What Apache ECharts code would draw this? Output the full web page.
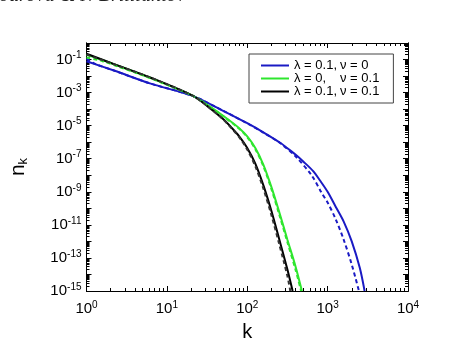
<!DOCTYPE html>
<html>
<head>
<meta charset="utf-8">
<script src="https://cdn.jsdelivr.net/npm/echarts@6/dist/echarts.min.js"></script>
<style>
  html, body { margin: 0; padding: 0; background: #fff; }
  #chart { width: 474px; height: 347px; }
</style>
</head>
<body>
<div id="chart"></div>
<script>
// series values (k, n_k)
const kBlue = [1, 2.24, 6.31, 20.9, 50.1, 100, 158.5, 260, 316, 398, 501, 661, 813, 1000, 1259, 1585, 1995, 2512, 2884];
const nBlue = [7.94e-2, 2.09e-2, 3.47e-3, 6.31e-4, 7.94e-5, 1.41e-5, 3.98e-6, 8.91e-7, 4.27e-7, 1.78e-7, 6.6e-8, 1.78e-8, 4.47e-9, 1e-9, 1.26e-10, 1.58e-11, 1e-12, 2.51e-14, 1e-15];
const kBlueDash = [1, 1.26, 2.24, 6.31, 20.9, 50.1, 100, 158.5, 251, 398, 631, 851, 1000, 1259, 1585, 1995, 2455];
const nBlueDash = [1.12e-1, 5.62e-2, 2.09e-2, 3.47e-3, 6.31e-4, 7.94e-5, 1.38e-5, 3.8e-6, 9.55e-7, 1.41e-7, 1e-8, 7.94e-10, 2.24e-10, 2.24e-11, 1.26e-12, 3.98e-14, 1e-15];

const kGreen = [1, 2.24, 6.31, 20.9, 31.6, 50.1, 79.4, 100, 126, 158.5, 199.5, 251, 316, 398, 479];
const nGreen = [0.2, 5.01e-2, 7.59e-3, 6.61e-4, 1.91e-4, 3.98e-5, 7.08e-6, 2.24e-6, 4.47e-7, 4.47e-8, 2.0e-9, 5.62e-11, 1.26e-12, 3.16e-14, 1e-15];
const kGreenDash = [1, 1.585, 2.24, 6.31, 20.9, 31.6, 50.1, 79.4, 100, 126, 158.5, 199.5, 251, 316, 398, 468];
const nGreenDash = [1.32e-1, 7.94e-2, 4.47e-2, 7.24e-3, 6.46e-4, 1.82e-4, 3.72e-5, 6.46e-6, 2.0e-6, 3.8e-7, 3.55e-8, 1.51e-9, 3.98e-11, 8.91e-13, 2.0e-14, 1e-15];

const kBlack = [1, 2.24, 6.31, 20.9, 31.6, 50.1, 63.1, 79.4, 100, 126, 158.5, 199.5, 251, 316, 367];
const nBlack = [0.224, 5.13e-2, 7.94e-3, 6.61e-4, 1.58e-4, 2.51e-5, 7.94e-6, 2.24e-6, 4.47e-7, 5.01e-8, 2.51e-9, 7.08e-11, 1.26e-12, 2.0e-14, 1e-15];
const kBlackDash = [1, 2.24, 6.31, 20.9, 31.6, 50.1, 63.1, 79.4, 100, 126, 158.5, 199.5, 251, 316, 343];
const nBlackDash = [0.2, 5.01e-2, 7.94e-3, 6.61e-4, 1.58e-4, 2.4e-5, 7.41e-6, 2.0e-6, 3.55e-7, 3.55e-8, 1.58e-9, 3.98e-11, 6.31e-13, 7.94e-15, 1e-15];

const legendNames = ["λ = 0.1,  ν = 0", "λ = 0,     ν = 0.1", "λ = 0.1,  ν = 0.1"];
const legendLeft = ["λ = 0.1,", "λ = 0,", "λ = 0.1,"];
const legendRight = ["ν = 0", "ν = 0.1", "ν = 0.1"];

// axis ticks / labels
const xMajor = [1, 10, 100, 1000, 10000];
const xMinor = [2, 3, 4, 5, 6, 7, 8, 9, 20, 30, 40, 50, 60, 70, 80, 90,
  200, 300, 400, 500, 600, 700, 800, 900, 2000, 3000, 4000, 5000, 6000, 7000, 8000, 9000];
const yMajor = [1e-15, 1e-14, 1e-13, 1e-12, 1e-11, 1e-10, 1e-9, 1e-8, 1e-7, 1e-6, 1e-5, 1e-4, 1e-3, 1e-2, 1e-1, 1];
const yLabels = [1e-15, 1e-13, 1e-11, 1e-9, 1e-7, 1e-5, 1e-3, 1e-1];
const yMinor = [];
yMajor.slice(0, -1).forEach((d) => {
  [2, 3, 4, 5, 6, 7, 8, 9].forEach((m) => yMinor.push(m * d));
});

const BLUE = "#1a1ac4";
const GREEN = "#2ee62e";
const BLACK = "#000000";
const FONT = "Liberation Sans";

const chart = echarts.init(document.getElementById("chart"));

function pairs(ks, ns) {
  return ks.map((k, i) => [k, ns[i]]);
}

function powLabel(v) {
  const e = Math.round(Math.log10(v));
  return "{b|10}{e|" + e + "}";
}

const richPow = {
  b: { fontSize: 15, fontFamily: FONT, color: "#000" },
  e: { fontSize: 10, fontFamily: FONT, color: "#000", padding: [0, 0, 8, 0] },
};

function xAxisDef(pos, ticks, len, withLabel) {
  return {
    type: "log",
    logBase: 10,
    min: 1,
    max: 10000,
    position: pos,
    gridIndex: 0,
    axisLine: { show: true, onZero: false, lineStyle: { color: "#000", width: 1 } },
    axisTick: { show: true, inside: true, length: len, customValues: ticks, lineStyle: { color: "#000" } },
    axisLabel: withLabel
      ? { show: true, customValues: xMajor, formatter: powLabel, rich: richPow, margin: 9 }
      : { show: false },
    splitLine: { show: false },
    minorTick: { show: false },
    name: withLabel ? "k" : "",
    nameLocation: "middle",
    nameGap: 31,
    nameTextStyle: { fontSize: 20, fontFamily: FONT, color: "#000" },
  };
}

function yAxisDef(pos, ticks, len, withLabel) {
  return {
    type: "log",
    logBase: 10,
    min: 1e-15,
    max: 1,
    position: pos,
    gridIndex: 0,
    axisLine: { show: true, onZero: false, lineStyle: { color: "#000", width: 1 } },
    axisTick: { show: true, inside: true, length: len, customValues: ticks, lineStyle: { color: "#000" } },
    axisLabel: withLabel
      ? { show: true, customValues: yLabels, formatter: powLabel, rich: richPow, margin: 5 }
      : { show: false },
    splitLine: { show: false },
    minorTick: { show: false },
    name: withLabel ? "{n|n}{s|k}" : "",
    nameLocation: "middle",
    nameRotate: 90,
    nameGap: 57,
    nameTextStyle: {
      rich: {
        n: { fontSize: 21, fontFamily: FONT, color: "#000" },
        s: { fontSize: 13, fontFamily: FONT, color: "#000", padding: [9, 0, 0, 0] },
      },
    },
  };
}

function lineSeries(name, ks, ns, color, dashed) {
  return {
    name: name,
    type: "line",
    xAxisIndex: 0,
    yAxisIndex: 0,
    data: pairs(ks, ns),
    symbol: "none",
    smooth: 0.3,
    clip: true,
    z: dashed ? 3 : 2,
    lineStyle: { color: color, width: 2, type: dashed ? [4, 3] : "solid" },
    itemStyle: { color: color },
    emphasis: { disabled: true },
    silent: true,
  };
}

chart.setOption({
  animation: false,
  backgroundColor: "#fff",
  grid: { left: 85, right: 66, top: 43, bottom: 48, containLabel: false },
  xAxis: [
    xAxisDef("bottom", xMajor, 5, true),
    xAxisDef("bottom", xMinor, 3, false),
    xAxisDef("top", xMajor, 5, false),
    xAxisDef("top", xMinor, 3, false),
  ],
  yAxis: [
    yAxisDef("left", yMajor, 5, true),
    yAxisDef("left", yMinor, 3, false),
    yAxisDef("right", yMajor, 5, false),
    yAxisDef("right", yMinor, 3, false),
  ],
  legend: {
    data: legendNames,
    orient: "vertical",
    left: 249,
    top: 54,
    padding: [5, 14, 5, 12],
    icon: "rect",
    itemWidth: 28,
    itemHeight: 2,
    itemGap: 0,
    borderColor: "#444",
    borderWidth: 1,
    borderRadius: 0,
    backgroundColor: "#fff",
    selectedMode: false,
    formatter: (name) => {
      const i = legendNames.indexOf(name);
      return "{a|" + legendLeft[i] + "}{c|" + legendRight[i] + "}";
    },
    textStyle: {
      rich: {
        a: { fontSize: 13, fontFamily: FONT, color: "#000", width: 46, lineHeight: 15 },
        c: { fontSize: 13, fontFamily: FONT, color: "#000", lineHeight: 15 },
      },
    },
  },
  graphic: [
    {
      type: "text",
      left: -10,
      top: -14,
      style: {
        text: "Jourova & N Brilliantov",
        font: "italic 20px 'Liberation Serif', serif",
        fill: "#222",
      },
    },
  ],
  series: [
    lineSeries(legendNames[0], kBlue, nBlue, BLUE, false),
    lineSeries(legendNames[1], kGreen, nGreen, GREEN, false),
    lineSeries(legendNames[2], kBlack, nBlack, BLACK, false),
    lineSeries("blue dashed", kBlueDash, nBlueDash, BLUE, true),
    lineSeries("green dashed", kGreenDash, nGreenDash, GREEN, true),
    lineSeries("black dashed", kBlackDash, nBlackDash, "#333", true),
  ],
});
</script>
</body>
</html>
